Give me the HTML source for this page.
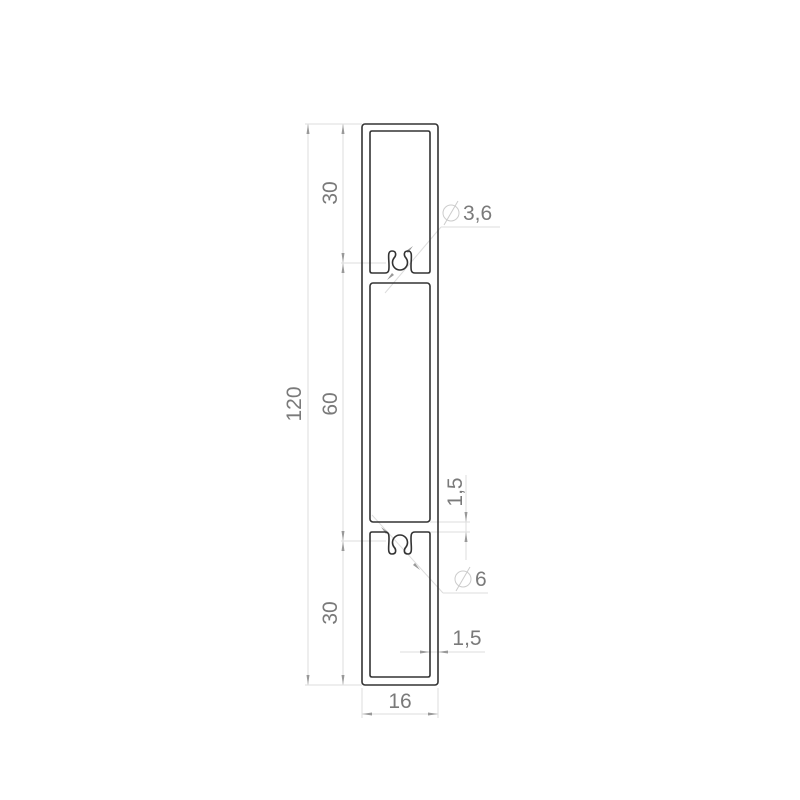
<!DOCTYPE html>
<html><head><meta charset="utf-8"><style>
html,body{margin:0;padding:0;background:#fff;}
svg{display:block;}
text{font-family:"Liberation Sans",sans-serif;fill:#7a7a7a;font-size:21px;}
</style></head><body>
<svg width="800" height="800" viewBox="0 0 800 800">
<g stroke="#ddd" stroke-width="1" fill="none">
<line x1="305" y1="124" x2="362" y2="124"/>
<line x1="305" y1="685" x2="362" y2="685"/>
<line x1="341" y1="263" x2="386" y2="263"/>
<line x1="341" y1="541" x2="386" y2="541"/>
<line x1="362" y1="688" x2="362" y2="718"/>
<line x1="438" y1="688" x2="438" y2="718"/>
<line x1="430" y1="522" x2="470" y2="522"/>
<line x1="430" y1="532" x2="470" y2="532"/>
<line x1="466" y1="475" x2="466" y2="560"/>
<line x1="400" y1="652" x2="485" y2="652"/>
<line x1="385" y1="293" x2="441" y2="227"/>
<line x1="441" y1="227" x2="500" y2="227"/>
<line x1="372" y1="515" x2="443" y2="593"/>
<line x1="443" y1="593" x2="488" y2="593"/>
<line x1="308" y1="124" x2="308" y2="685"/>
<line x1="343" y1="124" x2="343" y2="685"/>
<line x1="362" y1="714" x2="438" y2="714"/>
</g>
<g fill="#999">
<path d="M308,124 l-1.5,10 h3z"/><path d="M308,685 l-1.5,-10 h3z"/>
<path d="M343,124 l-1.5,10 h3z"/><path d="M343,263 l-1.5,-10 h3z"/>
<path d="M343,263 l-1.5,10 h3z"/><path d="M343,541 l-1.5,-10 h3z"/>
<path d="M343,541 l-1.5,10 h3z"/><path d="M343,685 l-1.5,-10 h3z"/>
<path d="M362,714 l10,-1.5 v3z"/><path d="M438,714 l-10,-1.5 v3z"/>
<path d="M466,522 l-1.5,-10 h3z"/><path d="M466,532 l-1.5,10 h3z"/>
<path d="M430,652 l-10,-1.5 v3z"/><path d="M438,652 l10,-1.5 v3z"/>
<path d="M413,246 l-7,5 2,2z"/><path d="M387,280 l7,-5 -2,-2z"/>
<path d="M381,527 l7,5 -2,2z"/><path d="M420,570 l-7,-5 2,-2z"/>
</g>
<g stroke="#333" stroke-width="1.6" fill="none">
<rect x="362" y="124" width="76" height="561" rx="3"/>
<rect x="370" y="283" width="60" height="239" rx="3"/>
<path d="M372,131 H428 Q430,131 430,133 V271 Q430,273 428,273 H415 C411,273 411,270 411,266 C411,258 413,251 408,251 C403,251 404,256 406,258 A7.5,7.5 0 1 1 394,258 C396,256 397,251 392,251 C387,251 389,258 389,266 C389,270 389,273 385,273 H372 Q370,273 370,271 V133 Q370,131 372,131 Z"/>
<path d="M372,677 H428 Q430,677 430,675 V534 Q430,532 428,532 H415 C411,532 411,535 411,539 C411,547 413,554 408,554 C403,554 404,549 406,547 A7.5,7.5 0 1 0 394,547 C396,549 397,554 392,554 C387,554 389,547 389,539 C389,535 389,532 385,532 H372 Q370,532 370,534 V675 Q370,677 372,677 Z"/>
</g>
<g stroke="#ccc" stroke-width="1" fill="none">
<circle cx="451" cy="213" r="8"/><line x1="444" y1="225" x2="458" y2="201"/>
<circle cx="463" cy="579" r="8"/><line x1="456" y1="591" x2="470" y2="567"/>
</g>
<text x="463" y="220">3,6</text>
<text x="475" y="586">6</text>
<text x="400" y="708" text-anchor="middle">16</text>
<text x="467" y="645" text-anchor="middle">1,5</text>
<text transform="translate(301,404) rotate(-90)" text-anchor="middle">120</text>
<text transform="translate(337,193) rotate(-90)" text-anchor="middle">30</text>
<text transform="translate(337,404) rotate(-90)" text-anchor="middle">60</text>
<text transform="translate(337,613) rotate(-90)" text-anchor="middle">30</text>
<text transform="translate(462,492) rotate(-90)" text-anchor="middle">1,5</text>
</svg>
</body></html>
